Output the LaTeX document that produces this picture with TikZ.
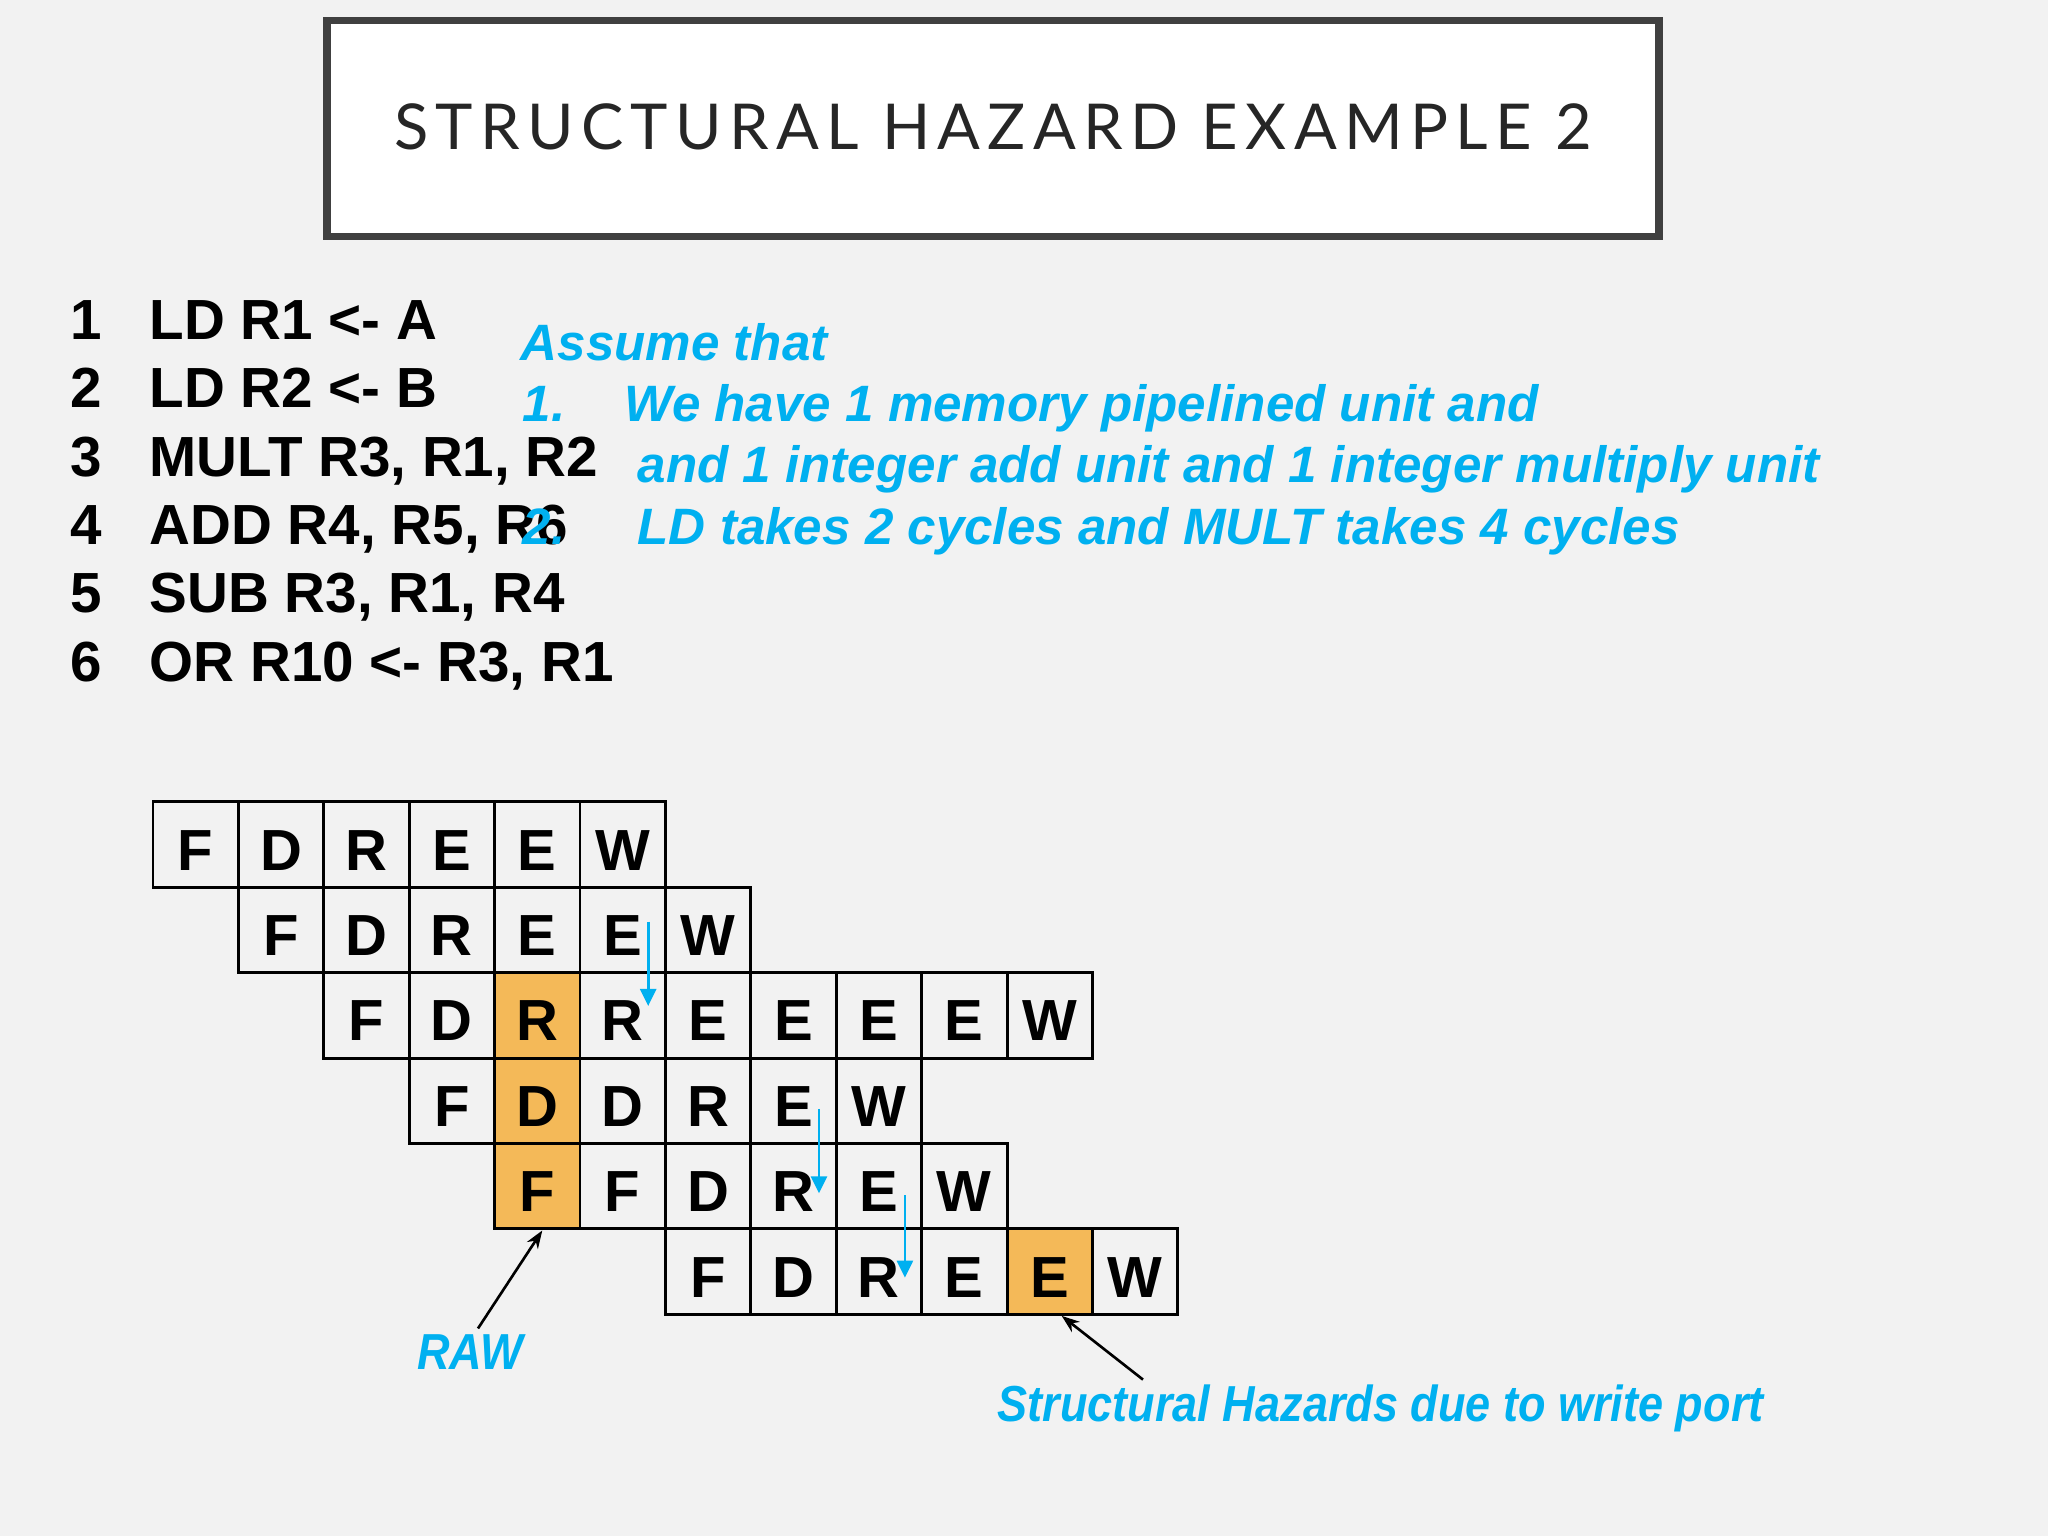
\documentclass[tikz,border=0pt]{standalone}
\usepackage{fontspec}
\setmainfont{Liberation Sans}
\newfontfamily\titlefont[LetterSpace=11.5]{Lato}
\newfontfamily\labelfont[FakeStretch=0.89]{Liberation Sans}
\usetikzlibrary{arrows.meta}
\definecolor{slidegray}{RGB}{242,242,242}
\definecolor{framegray}{RGB}{64,64,64}
\definecolor{noteblue}{RGB}{0,176,240}
\definecolor{hazardorange}{RGB}{244,185,88}

\begin{document}
\begin{tikzpicture}[
	cell/.style={draw, line width=0.85pt, minimum size=0.854cm, inner sep=0pt, text height=5.1mm, text depth=0pt, font=\bfseries\fontsize{16.5}{20}\selectfont},
	instr/.style={anchor=base west, inner sep=0pt, font=\bfseries\fontsize{16.1}{19}\selectfont},
	note/.style={anchor=base west, inner sep=0pt, text=noteblue, font=\bfseries\itshape\fontsize{14.55}{17}\selectfont},
	tag/.style={inner sep=0pt, text=noteblue, font=\labelfont\bfseries\itshape\fontsize{14.4}{17}\selectfont},
	forward/.style={draw=noteblue, line width=0.75pt, -{Triangle[width=1.6mm,length=1.7mm]}},
	pointer/.style={line width=0.75pt, -{Stealth[width=1.3mm,length=1.8mm]}}]
	\useasboundingbox (0,0) rectangle (20.48,15.36);
	\fill[slidegray] (0,0) rectangle (20.48,15.36);

	\draw[framegray, line width=2pt, fill=white] (3.27,15.155) rectangle (16.59,12.995);
	\node[anchor=base, inner sep=0pt, text=black!85] (title) at (9.93,13.86) {\titlefont\fontsize{18}{22}\selectfont STRUCTURAL HAZARD EXAMPLE 2};

	% instructions
	\node[instr] (n1) at (0.70,11.96) {1};
	\node[instr] (i1) at (1.49,11.96) {LD R1 <- A};
	\node[instr] (n2) at (0.70,11.28) {2};
	\node[instr] (i2) at (1.49,11.28) {LD R2 <- B};
	\node[instr] (n3) at (0.70,10.59) {3};
	\node[instr] (i3) at (1.49,10.59) {MULT R3, R1, R2};
	\node[instr] (n4) at (0.70,9.91) {4};
	\node[instr] (i4) at (1.49,9.91) {ADD R4, R5, R6};
	\node[instr] (n5) at (0.70,9.23) {5};
	\node[instr] (i5) at (1.49,9.23) {SUB R3, R1, R4};
	\node[instr] (n6) at (0.70,8.54) {6};
	\node[instr] (i6) at (1.49,8.54) {OR R10 <- R3, R1};

	% assumptions
	\node[note] (assume) at (5.20,11.75) {Assume that};
	\node[note] (a1) at (5.22,11.14) {1.};
	\node[note] (a1text) at (6.24,11.14) {We have 1 memory pipelined unit and};
	\node[note] (a1more) at (6.37,10.53) {and 1 integer add unit and 1 integer multiply unit};
	\node[note] (a2) at (5.22,9.91) {2.};
	\node[note] (a2text) at (6.37,9.91) {LD takes 2 cycles and MULT takes 4 cycles};

	% pipeline
	\begin{scope}[shift={(1.53,7.34)}, x=0.854cm, y=-0.854cm]
		\fill[hazardorange] (4,2) rectangle (5,5);
		\fill[hazardorange] (10,5) rectangle (11,6);
		\foreach \row/\start/\stages in {1/0/{F,D,R,E,E,W}, 2/1/{F,D,R,E,E,W}, 3/2/{F,D,R,R,E,E,E,E,W}, 4/3/{F,D,D,R,E,W}, 5/4/{F,F,D,R,E,W}, 6/6/{F,D,R,E,E,W}}
			\foreach \s [count=\k from \start] in \stages
				\node[cell] (r\row-\k) at (\k+0.5,\row-0.5) {\s};
	\end{scope}

	\draw[forward] ([xshift=2.55mm,yshift=0.85mm]r2-5.center) -- ([xshift=2.55mm,yshift=0.95mm]r3-5.center);
	\draw[forward] ([xshift=2.55mm,yshift=-0.8mm]r4-7.center) -- ([xshift=2.55mm,yshift=-0.7mm]r5-7.center);
	\draw[forward] ([xshift=2.6mm,yshift=-0.9mm]r5-8.center) -- ([xshift=2.6mm,yshift=-0.6mm]r6-8.center);

	% hazards
	\node[tag, anchor=base] (raw) at (4.70,1.66) {RAW};
	\node[tag, anchor=base west] (struct) at (9.97,1.14) {Structural Hazards due to write port};
	\draw[pointer] ([xshift=0.8mm,yshift=0.6mm]raw.north) -- ([xshift=0.5mm]r5-4.south);
	\draw[pointer] ([xshift=14.6mm,yshift=0.5mm]struct.north west) -- ([xshift=1.2mm]r6-10.south);
\end{tikzpicture}
\end{document}
